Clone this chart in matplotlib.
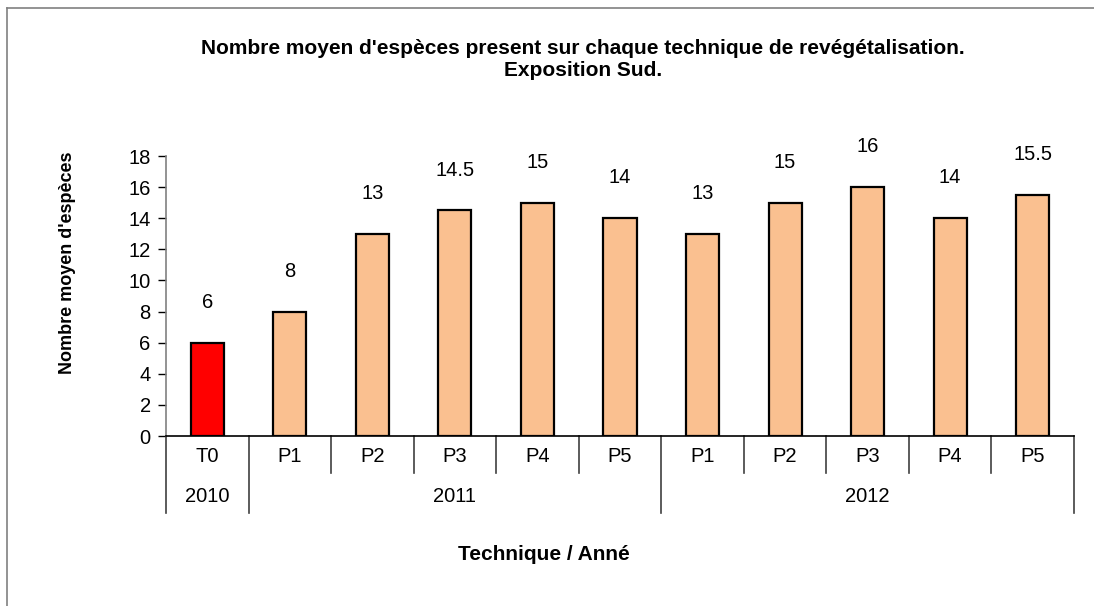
import matplotlib
matplotlib.use("Agg")
import matplotlib.pyplot as plt
from matplotlib.lines import Line2D
import matplotlib.transforms as mtransforms

plt.rcParams['font.family'] = ['Liberation Sans', 'DejaVu Sans']

# Data
techniques = ["T0", "P1", "P2", "P3", "P4", "P5", "P1", "P2", "P3", "P4", "P5"]
years = ["2010", "2011", "2012"]
year_counts = [1, 5, 5]
values = [6, 8, 13, 14.5, 15, 14, 13, 15, 16, 14, 15.5]
value_labels = ["6", "8", "13", "14.5", "15", "14", "13", "15", "16", "14", "15.5"]
bar_colors = ["#FF0000"] + ["#FAC090"] * 10

W, H = 1094, 606
fig = plt.figure(figsize=(W / 100, H / 100), dpi=100)
fig.patch.set_facecolor("white")

# outer frame (left and top visible)
fig.add_artist(Line2D([7 / W, 7 / W], [0, 1 - 8 / H], color="#808080", lw=1.2, transform=fig.transFigure))
fig.add_artist(Line2D([7 / W, 1], [1 - 8 / H, 1 - 8 / H], color="#808080", lw=1.2, transform=fig.transFigure))

ax_l, ax_r, ax_t, ax_b = 166, 1074, 156, 436
ax = fig.add_axes([ax_l / W, 1 - ax_b / H, (ax_r - ax_l) / W, (ax_b - ax_t) / H])

x = list(range(len(values)))
ax.bar(x, values, width=0.4, color=bar_colors, edgecolor="black", linewidth=1.6, zorder=3)
ax.set_xlim(-0.5, len(values) - 0.5)
ax.set_ylim(0, 18)
ax.set_yticks(range(0, 19, 2))
ax.tick_params(axis="y", labelsize=14.5, length=6, width=1, direction="out", pad=5)
ax.set_xticks([])

for sp in ["top", "right"]:
    ax.spines[sp].set_visible(False)
ax.spines["left"].set_color("#808080")
ax.spines["left"].set_linewidth(1.2)
ax.spines["bottom"].set_color("black")
ax.spines["bottom"].set_linewidth(1.2)

for xi, v, lab in zip(x, values, value_labels):
    ax.annotate(lab, (xi, v), xytext=(0, 29), textcoords="offset points",
                ha="center", va="center", fontsize=14.5)

# category axis table
h = ax_b - ax_t
row1_end = -(473 - ax_b) / h
row2_end = -(513 - ax_b) / h
row1_mid = -(456 - ax_b) / h
row2_mid = -(497 - ax_b) / h
trans = mtransforms.blended_transform_factory(ax.transData, ax.transAxes)

for xi, lab in zip(x, techniques):
    ax.text(xi, row1_mid, lab, transform=trans, ha="center", va="center", fontsize=14.5, clip_on=False)

group_bounds = [-0.5]
for c in year_counts:
    group_bounds.append(group_bounds[-1] + c)
for b in group_bounds:
    ax.add_line(Line2D([b, b], [0, row2_end], transform=trans, color="#404040", lw=1.2, clip_on=False))
for i in range(len(values) - 1):
    b = i + 0.5
    if b in group_bounds:
        continue
    ax.add_line(Line2D([b, b], [0, row1_end], transform=trans, color="#404040", lw=1.2, clip_on=False))
for yr, g0, g1 in zip(years, group_bounds[:-1], group_bounds[1:]):
    ax.text((g0 + g1) / 2, row2_mid, yr, transform=trans, ha="center", va="center", fontsize=14.5, clip_on=False)

fig.text(583 / W, 1 - 60 / H, "Nombre moyen d'espèces present sur chaque technique de revégétalisation.\nExposition Sud.",
         ha="center", va="center", fontsize=15, fontweight="bold", linespacing=1.2)
fig.text(68 / W, 1 - 263 / H, "Nombre moyen d'espèces", rotation=90, ha="center", va="center",
         fontsize=13, fontweight="bold")
fig.text(544 / W, 1 - 555 / H, "Technique / Anné", ha="center", va="center", fontsize=15, fontweight="bold")

fig.savefig("out.png", dpi=100)
